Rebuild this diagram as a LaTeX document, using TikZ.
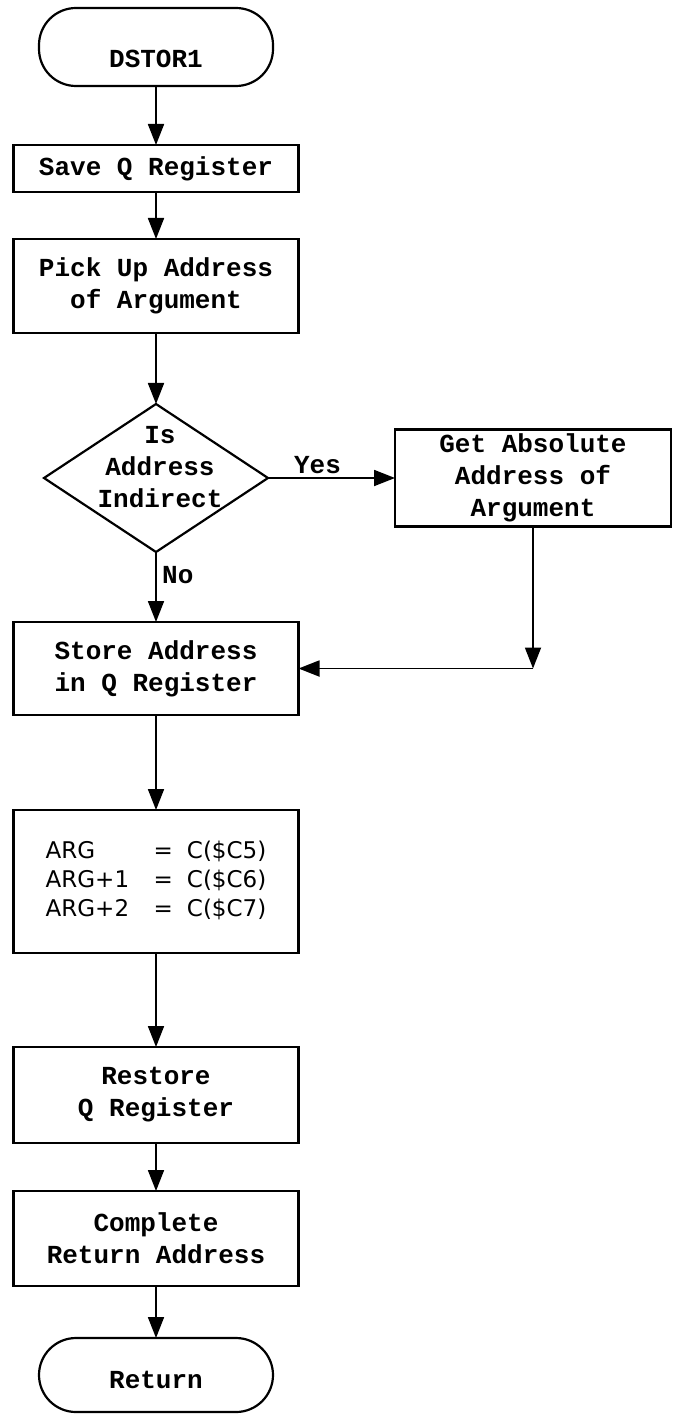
\documentclass[tikz,border=0pt]{standalone}
\usepackage{fontspec}
\usepackage{tikz}
\usetikzlibrary{shapes.geometric, arrows.meta, positioning}
\setmonofont{Liberation Mono}
\newfontfamily\argfont{DejaVu Sans}

\begin{document}
\begin{tikzpicture}[
    x=1pt, y=-1pt,
    font=\ttfamily\bfseries\fontsize{26}{32}\selectfont,
    terminal/.style = {rectangle, rounded corners=37pt, draw, line width=2.2pt,
                       minimum width=234pt, outer sep=0pt},
    process/.style  = {rectangle, draw, line width=2.2pt, minimum width=285pt,
                       align=center, outer sep=0pt},
    decision/.style = {diamond, draw, line width=2.2pt, minimum width=224pt,
                       minimum height=148pt, inner sep=0pt, outer sep=0pt},
    arrow/.style    = {-{Triangle[length=21pt, width=16pt]}, line width=1.8pt}
  ]
  \useasboundingbox (0,0) rectangle (672,1415);

  \node[terminal, minimum height=78pt] (start) at (156,47)
       {\raisebox{-12pt}[\height][\depth]{DSTOR1}};
  \node[process, minimum height=47pt, below=59pt of start]  (saveq)  {Save Q Register};
  \node[process, minimum height=94pt, below=47pt of saveq]  (pickup) {Pick Up Address\\of Argument};
  \node[decision, below=71pt of pickup] (isind) {};
  \node[align=center, xshift=4pt, yshift=11pt] (isindtxt) at (isind) {Is\\Address\\Indirect};
  \node[process, minimum width=276pt, minimum height=97pt, right=127pt of isind]
       (getabs) {Get Absolute\\Address of\\Argument};
  \node[process, minimum height=93pt, below=70pt of isind]  (store)  {Store Address\\in Q Register};
  \node[process, minimum height=143pt, below=95pt of store] (args)
       {\argfont\mdseries\fontsize{23}{29}\selectfont
        \begin{tabular}{@{}p{108pt}@{}l@{\hspace{14pt}}l@{}}
          ARG   & = & C(\$C5)\\
          ARG+1 & = & C(\$C6)\\
          ARG+2 & = & C(\$C7)
        \end{tabular}};
  \node[process, minimum height=96pt, below=94pt of args]     (restore)  {Restore\\Q Register};
  \node[process, minimum height=95pt, below=48pt of restore]  (complete) {Complete\\Return Address};
  \node[terminal, minimum height=74pt, below=52pt of complete] (return)
       {\raisebox{-5pt}[\height][\depth]{Return}};

  \coordinate (joinpt) at (getabs.south |- store.east);

  \draw[arrow] (start)  -- (saveq);
  \draw[arrow] (saveq)  -- (pickup);
  \draw[arrow] (pickup) -- (isind);
  \draw[arrow] (isind)  -- node[above=0pt, pos=0.39] (yeslbl) {Yes} (getabs);
  \draw[arrow] (isind)  -- node[right=2pt, pos=0.33] (nolbl) {No} (store);
  \draw[arrow] (getabs) -- (joinpt);
  \draw[arrow] (joinpt) -- (store);
  \draw[arrow] (store)    -- (args);
  \draw[arrow] (args)     -- (restore);
  \draw[arrow] (restore)  -- (complete);
  \draw[arrow] (complete) -- (return);
\end{tikzpicture}
\end{document}
